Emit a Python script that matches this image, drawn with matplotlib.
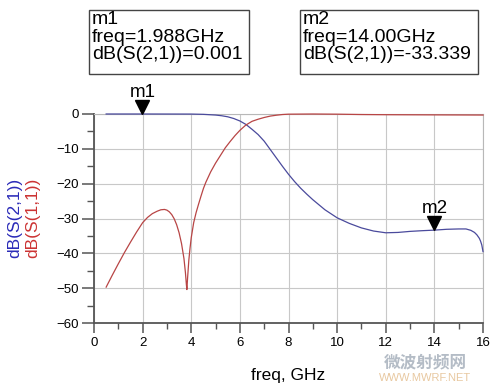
import matplotlib.pyplot as plt
import matplotlib.patches as mpatches
import matplotlib.transforms as mtransforms
from matplotlib.ticker import MultipleLocator

# dB(S(2,1)) - blue trace
freq_s21 = [0.5, 2.0, 4.0, 4.5, 5.0, 5.25, 5.5, 5.75, 6.0, 6.25, 6.5, 6.75, 7.0,
            7.25, 7.5, 7.75, 8.0, 8.25, 8.5, 8.75, 9.0, 9.5, 10.0, 10.5, 11.0,
            11.5, 12.0, 12.5, 13.0, 13.5, 14.0, 14.5, 15.0, 15.3, 15.5, 15.65,
            15.75, 15.85, 15.9, 15.95, 16.0]
s21_db = [0.0, 0.001, -0.02, -0.1, -0.3, -0.5, -0.8, -1.3, -2.0, -3.0, -4.4, -5.9,
          -7.8, -10.2, -12.6, -15.0, -17.3, -19.4, -21.3, -23.0, -24.6, -27.5,
          -29.8, -31.4, -32.7, -33.6, -34.1, -34.0, -33.7, -33.5, -33.339, -33.1,
          -33.0, -33.0, -33.4, -34.0, -34.7, -35.7, -36.5, -37.6, -39.5]

# dB(S(1,1)) - red trace
freq_s11 = [0.5, 0.75, 1.0, 1.25, 1.5, 1.75, 2.0, 2.2, 2.4, 2.6, 2.75, 2.9, 3.0,
            3.1, 3.2, 3.3, 3.4, 3.5, 3.6, 3.7, 3.76, 3.8, 3.82, 3.85, 3.9, 3.95,
            4.0, 4.1, 4.2, 4.3, 4.4, 4.5, 4.6, 4.8, 5.0, 5.2, 5.4, 5.6, 5.8, 6.0,
            6.24, 6.5, 6.75, 7.0, 7.25, 7.5, 7.75, 8.0, 9.0, 10.0, 11.0, 12.0,
            14.0, 16.0]
s11_db = [-49.7, -46.3, -43.0, -39.8, -36.8, -33.9, -31.2, -29.7, -28.6, -27.9,
          -27.5, -27.4, -27.6, -28.1, -28.9, -30.1, -31.8, -34.1, -37.2, -41.5,
          -45.5, -49.0, -50.4, -47.0, -42.0, -38.5, -35.5, -31.2, -28.3, -25.9,
          -23.6, -21.4, -19.6, -16.6, -14.1, -11.9, -9.7, -7.9, -6.2, -4.7, -3.2,
          -2.1, -1.5, -1.0, -0.6, -0.35, -0.15, -0.05, 0.0, -0.05, -0.15, -0.2,
          -0.25, -0.3]

# markers
m_names = ["m1", "m2"]
m_freq = [1.988, 14.00]
m_db = [0.001, -33.339]
m_text = ["m1\nfreq=1.988GHz\ndB(S(2,1))=0.001",
          "m2\nfreq=14.00GHz\ndB(S(2,1))=-33.339"]

plt.rcParams["font.family"] = ["Liberation Sans", "DejaVu Sans"]

fig = plt.figure(figsize=(5, 3.87), dpi=100)
fig.patch.set_facecolor("white")
ax = fig.add_axes([94 / 500, 1 - 323 / 387, 389 / 500, 209 / 387])

ax.plot(freq_s21, s21_db, color="#4a4a9c", lw=0.9, clip_on=False, zorder=3)
ax.plot(freq_s11, s11_db, color="#b84545", lw=0.9, clip_on=False, zorder=3)

ax.set_xlim(0, 16)
ax.set_ylim(-60, 0)
ax.xaxis.set_major_locator(MultipleLocator(2))
ax.xaxis.set_minor_locator(MultipleLocator(1))
ax.yaxis.set_major_locator(MultipleLocator(10))
ax.yaxis.set_minor_locator(MultipleLocator(5))
ax.grid(True, which="major", color="#c8c8c8", lw=0.8)

for side in ["left", "bottom"]:
    ax.spines[side].set_color("#555555")
    ax.spines[side].set_linewidth(1.3)
for side in ["top", "right"]:
    ax.spines[side].set_color("#b8b8b8")
    ax.spines[side].set_linewidth(0.8)

ax.tick_params(axis="y", which="major", length=9, width=1.1, color="#555555",
               pad=2, labelsize=9.5)
ax.tick_params(axis="y", which="minor", length=5, width=1.0, color="#555555")
ax.tick_params(axis="x", which="major", length=7, width=1.1, color="#555555",
               pad=3, labelsize=9.5)
ax.tick_params(axis="x", which="minor", length=4, width=1.0, color="#555555")

ax.set_xlabel("freq, GHz", fontsize=12.5, labelpad=14)

# stacked y labels
fig.text(15 / 500, 1 - 218 / 387, "dB(S(2,1))", rotation=90, color="#2b2bb8",
         fontsize=12.5, ha="center", va="center")
fig.text(33 / 500, 1 - 218 / 387, "dB(S(1,1))", rotation=90, color="#cc3333",
         fontsize=12.5, ha="center", va="center")

# marker triangles (tip on the trace) with labels
tip_shift = ax.transData + mtransforms.ScaledTranslation(0, 4.8 / 72, fig.dpi_scale_trans)
for name, f, d in zip(m_names, m_freq, m_db):
    ax.plot([f], [d], marker="v", ms=9.5, color="black", clip_on=False,
            zorder=5, transform=tip_shift)
    ax.annotate(name, xy=(f, d), xytext=(0, 12), textcoords="offset points",
                ha="center", va="baseline", fontsize=13.5, annotation_clip=False)

# marker readout boxes
box_x = [89, 300]
box_w = [160, 178]
for bx, bw, txt in zip(box_x, box_w, m_text):
    fig.patches.append(mpatches.Rectangle((bx / 500, 1 - 74 / 387), bw / 500, 64 / 387,
                                          transform=fig.transFigure, fill=False,
                                          edgecolor="#444444", lw=1.0))
    fig.text((bx + 3) / 500, 1 - 11 / 387, txt, fontsize=14, va="top", ha="left",
             linespacing=1.05)

# watermark (kept clear of the tick labels)
fig.text(425 / 500, 1 - 362 / 387, "微波射频网", family=["Noto Sans CJK SC", "DejaVu Sans"],
         fontsize=12, fontweight="bold", color="#b4bcc6", ha="center", va="center")
fig.text(425 / 500, 1 - 378 / 387, "WWW.MWRF.NET", fontsize=8, color="#e8c8a0",
         ha="center", va="center")

fig.savefig("out.png", dpi=100)
